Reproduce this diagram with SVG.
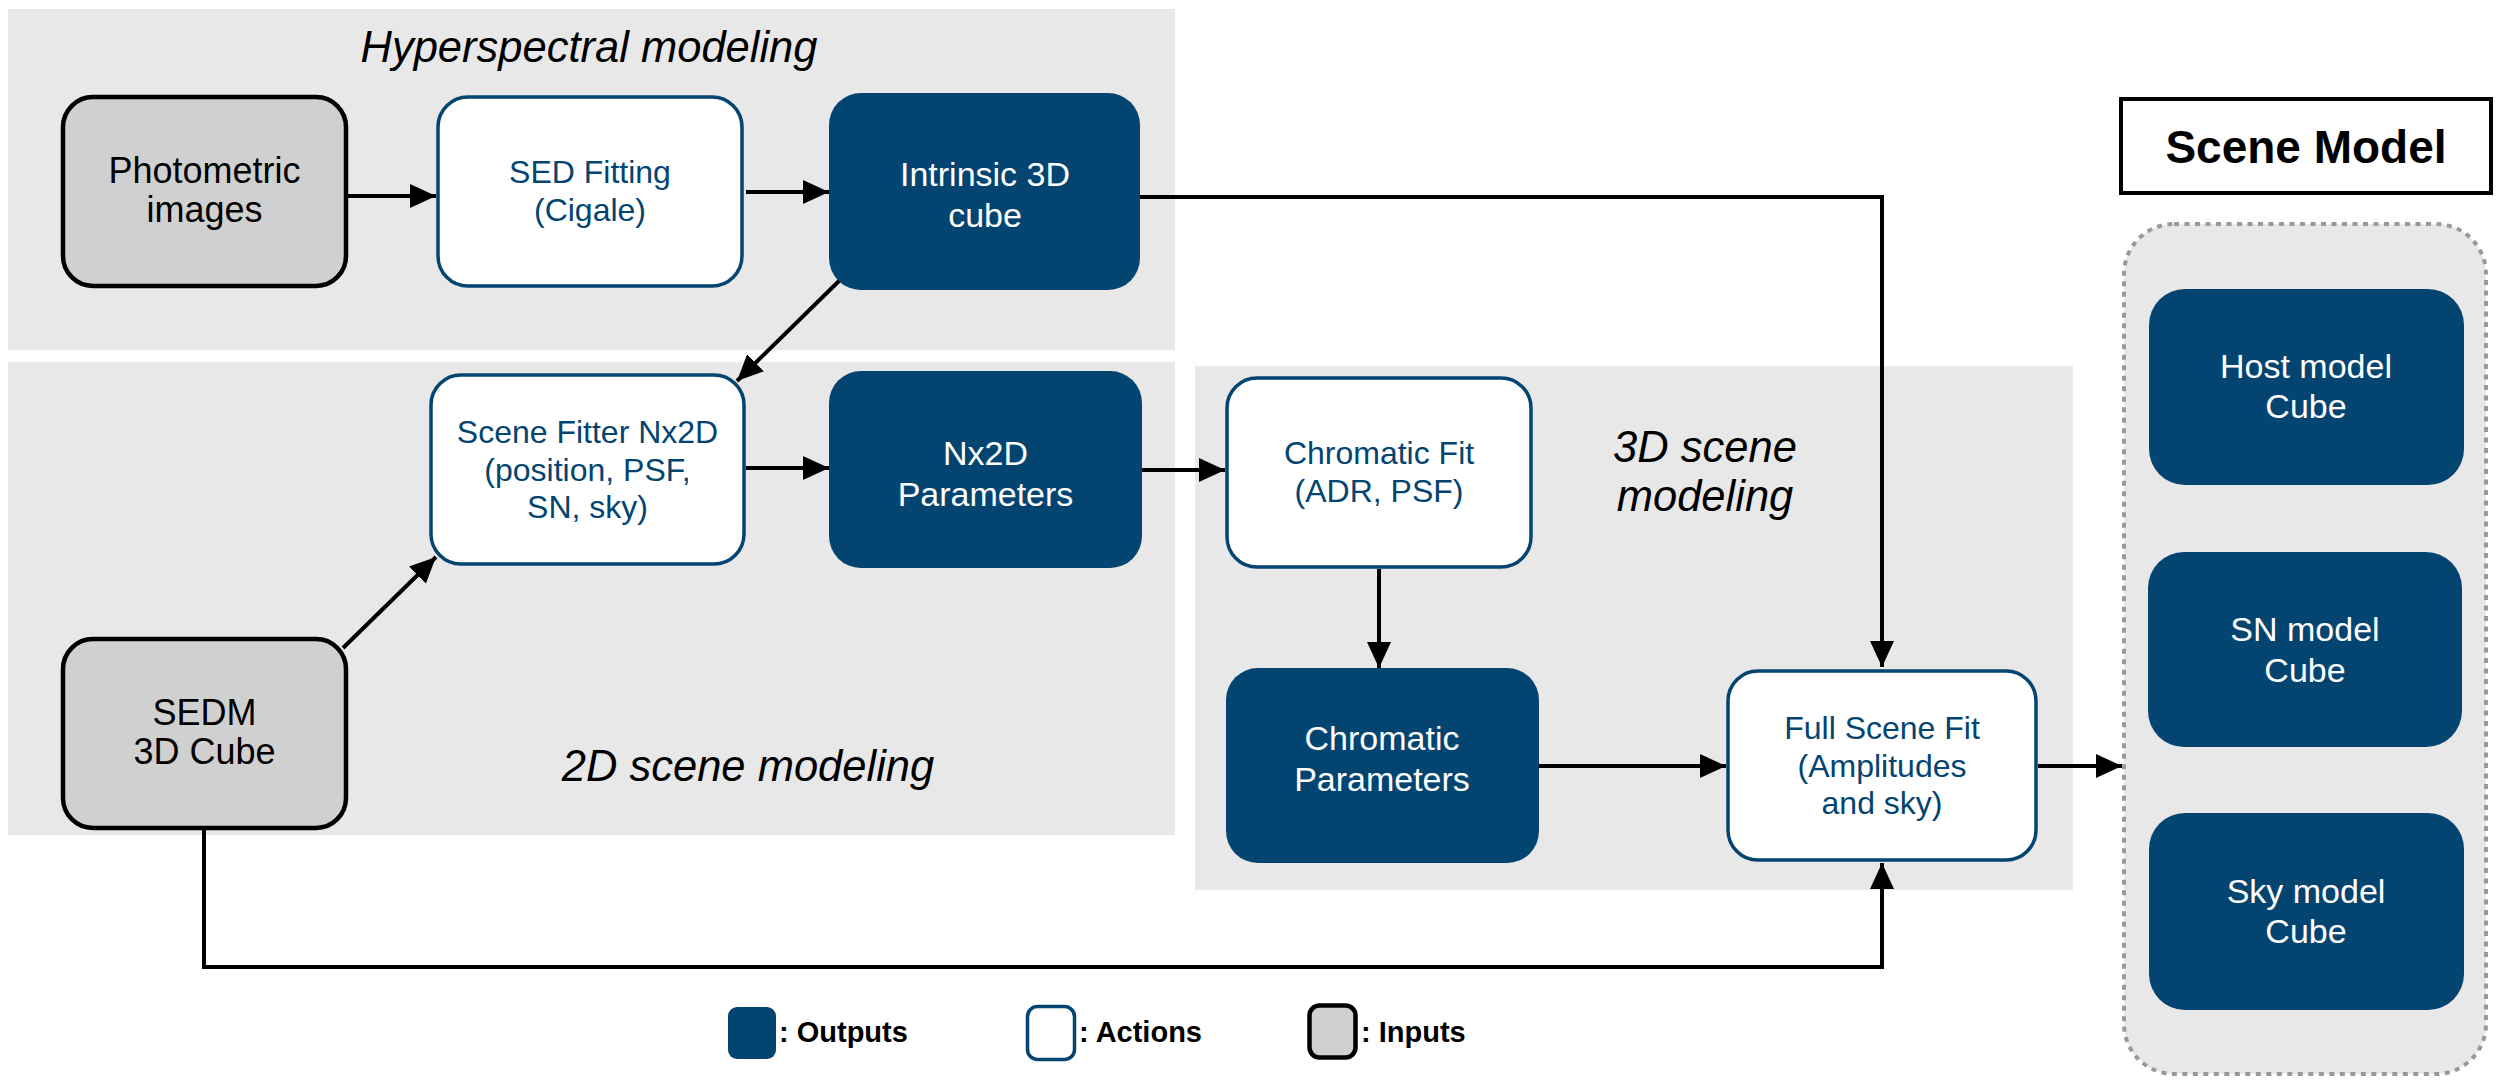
<svg xmlns="http://www.w3.org/2000/svg" width="2504" height="1084" viewBox="0 0 2504 1084">
<style>
text{font-family:"Liberation Sans",Arial,Helvetica,sans-serif;text-anchor:middle}
.panel{fill:#E8E8E8}
.inp{fill:#D0D0D0;stroke:#000;stroke-width:4.5}
.act{fill:#FFF;stroke:#034471;stroke-width:3.5}
.out{fill:#034471}
.ti{fill:#000;font-size:36px}
.ta{fill:#034471;font-size:32px}
.to{fill:#FFF;font-size:34px}
.ital{font-style:italic;font-size:43.5px;fill:#000}
.conn{fill:none;stroke:#000;stroke-width:4}
.leg{font-size:29px;font-weight:bold;text-anchor:start;fill:#000}
</style>
<defs>
<marker id="ah" markerUnits="userSpaceOnUse" markerWidth="26" markerHeight="24" refX="26" refY="12" orient="auto">
<path d="M0,0 L26,12 L0,24 z" fill="#000"/>
</marker>
</defs>
<rect width="2504" height="1084" fill="#FFF"/>
<g id="panels">
<rect class="panel" x="8" y="9" width="1167" height="341"/>
<rect class="panel" x="8" y="362" width="1167" height="473"/>
<rect class="panel" x="1195" y="366" width="878" height="524"/>
<text class="ital" x="589" y="62">Hyperspectral modeling</text>
<text class="ital" x="748" y="781">2D scene modeling</text>
<text class="ital" x="1705" y="462">3D scene</text>
<text class="ital" x="1705" y="511">modeling</text>
</g>
<g id="connectors">
<line class="conn" x1="348" y1="196" x2="436" y2="196" marker-end="url(#ah)"/>
<line class="conn" x1="746" y1="192" x2="829" y2="192" marker-end="url(#ah)"/>
<polyline class="conn" points="1140,197 1882,197 1882,667" marker-end="url(#ah)"/>
<line class="conn" x1="840" y1="280" x2="737" y2="381" marker-end="url(#ah)"/>
<line class="conn" x1="343" y1="648" x2="436" y2="557" marker-end="url(#ah)"/>
<line class="conn" x1="746" y1="468" x2="829" y2="468" marker-end="url(#ah)"/>
<line class="conn" x1="1142" y1="470" x2="1225" y2="470" marker-end="url(#ah)"/>
<line class="conn" x1="1379" y1="569" x2="1379" y2="668" marker-end="url(#ah)"/>
<line class="conn" x1="1539" y1="766" x2="1726" y2="766" marker-end="url(#ah)"/>
<line class="conn" x1="2038" y1="766" x2="2122" y2="766" marker-end="url(#ah)"/>
<polyline class="conn" points="204,830 204,967 1882,967 1882,863" marker-end="url(#ah)"/>
</g>
<g id="photometric">
<rect class="inp" x="63" y="97" width="283" height="189" rx="30"/>
<text class="ti" x="204.5" y="183">Photometric</text>
<text class="ti" x="204.5" y="222">images</text>
</g>
<g id="sed-fitting">
<rect class="act" x="438" y="97" width="304" height="189" rx="30"/>
<text class="ta" x="590" y="183">SED Fitting</text>
<text class="ta" x="590" y="221">(Cigale)</text>
</g>
<g id="intrinsic">
<rect class="out" x="829" y="93" width="311" height="197" rx="32"/>
<text class="to" x="985" y="186">Intrinsic 3D</text>
<text class="to" x="985" y="227">cube</text>
</g>
<g id="scene-fitter">
<rect class="act" x="431" y="375" width="313" height="189" rx="30"/>
<text class="ta" x="587.5" y="443">Scene Fitter Nx2D</text>
<text class="ta" x="587.5" y="481">(position, PSF,</text>
<text class="ta" x="587.5" y="518">SN, sky)</text>
</g>
<g id="nx2d">
<rect class="out" x="829" y="371" width="313" height="197" rx="32"/>
<text class="to" x="985.5" y="465">Nx2D</text>
<text class="to" x="985.5" y="506">Parameters</text>
</g>
<g id="sedm">
<rect class="inp" x="63" y="639" width="283" height="189" rx="30"/>
<text class="ti" x="204.5" y="725">SEDM</text>
<text class="ti" x="204.5" y="764">3D Cube</text>
</g>
<g id="chromatic-fit">
<rect class="act" x="1227" y="378" width="304" height="189" rx="30"/>
<text class="ta" x="1379" y="464">Chromatic Fit</text>
<text class="ta" x="1379" y="502">(ADR, PSF)</text>
</g>
<g id="chromatic-params">
<rect class="out" x="1226" y="668" width="313" height="195" rx="32"/>
<text class="to" x="1382" y="750">Chromatic</text>
<text class="to" x="1382" y="791">Parameters</text>
</g>
<g id="full-scene-fit">
<rect class="act" x="1728" y="671" width="308" height="189" rx="30"/>
<text class="ta" x="1882" y="739">Full Scene Fit</text>
<text class="ta" x="1882" y="777">(Amplitudes</text>
<text class="ta" x="1882" y="814">and sky)</text>
</g>
<g id="scene-model">
<rect x="2121" y="99" width="370" height="94" fill="#FFF" stroke="#000" stroke-width="4"/>
<text x="2306" y="163" font-size="46" font-weight="bold" fill="#000">Scene Model</text>
<rect x="2124" y="224" width="362" height="850" rx="50" fill="#E8E8E8" stroke="#999" stroke-width="4" stroke-dasharray="5,5.5"/>
</g>
<g id="host-model">
<rect class="out" x="2149" y="289" width="315" height="196" rx="36"/>
<text class="to" x="2306" y="378">Host model</text>
<text class="to" x="2306" y="418">Cube</text>
</g>
<g id="sn-model">
<rect class="out" x="2148" y="552" width="314" height="195" rx="36"/>
<text class="to" x="2305" y="641">SN model</text>
<text class="to" x="2305" y="682">Cube</text>
</g>
<g id="sky-model">
<rect class="out" x="2149" y="813" width="315" height="197" rx="36"/>
<text class="to" x="2306" y="903">Sky model</text>
<text class="to" x="2306" y="943">Cube</text>
</g>
<g id="legend">
<rect class="out" x="728" y="1007" width="48" height="52" rx="9"/>
<text class="leg" x="779" y="1042">: Outputs</text>
<rect class="act" x="1027.5" y="1006.5" width="47" height="53" rx="10" stroke-width="5"/>
<text class="leg" x="1079" y="1042">: Actions</text>
<rect class="inp" x="1309.5" y="1005.5" width="46" height="52" rx="10" stroke-width="5"/>
<text class="leg" x="1361" y="1042">: Inputs</text>
</g>
</svg>
